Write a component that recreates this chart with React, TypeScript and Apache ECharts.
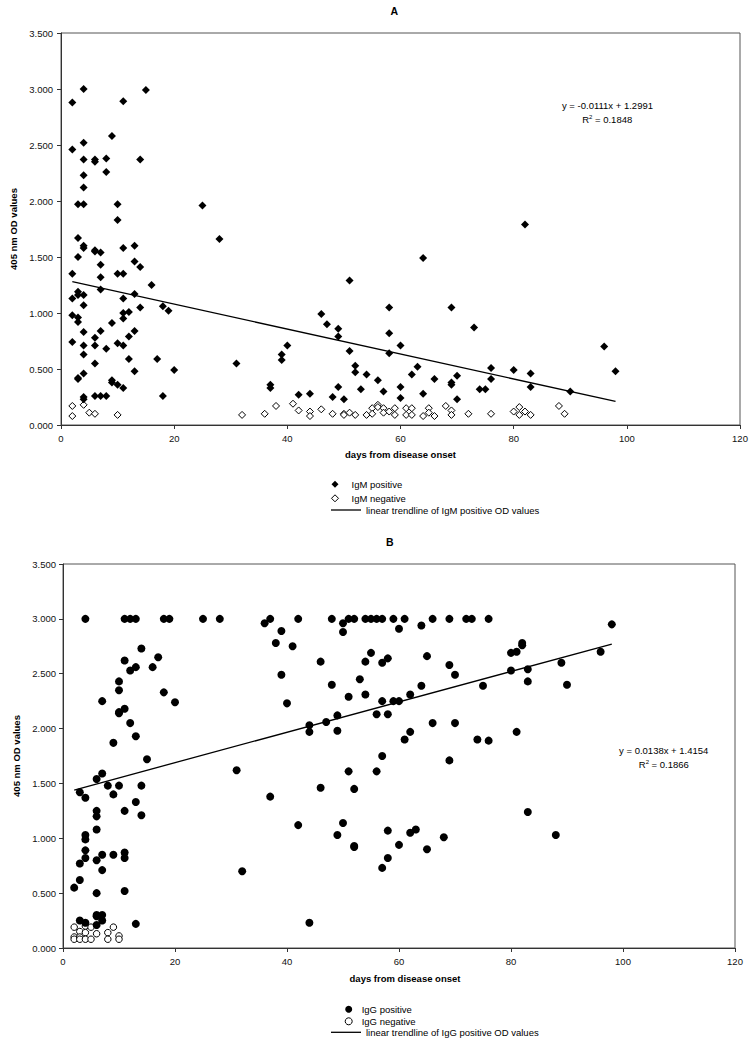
import React, { useEffect, useRef } from "react";
import * as echarts from "echarts";

// ---------- Panel A : IgM ----------
const igmPositive: [number, number][] = [
  [4, 3.0], [2, 2.88], [15, 2.99], [11, 2.89], [9, 2.58], [2, 2.46], [4, 2.52], [4, 2.37],
  [6, 2.37], [6, 2.35], [8, 2.38], [8, 2.26], [14, 2.37], [4, 2.23], [4, 2.12], [3, 1.97],
  [4, 1.97], [10, 1.97], [25, 1.96], [10, 1.83], [3, 1.67], [4, 1.6], [4, 1.58], [3, 1.5],
  [6, 1.56], [6, 1.55], [7, 1.54], [11, 1.58], [13, 1.6], [7, 1.43], [13, 1.46], [14, 1.41],
  [2, 1.35], [7, 1.32], [10, 1.35], [11, 1.35], [16, 1.25], [7, 1.21], [3, 1.19], [3, 1.16],
  [4, 1.16], [2, 1.13], [11, 1.13], [13, 1.17], [4, 1.07], [18, 1.06], [19, 1.02], [14, 1.05],
  [11, 1.0], [12, 1.01], [2, 0.98], [3, 0.96], [3, 0.92], [11, 0.95], [9, 0.91], [4, 0.83],
  [7, 0.84], [13, 0.84], [12, 0.79], [6, 0.78], [2, 0.74], [4, 0.71], [6, 0.71], [10, 0.73],
  [11, 0.71], [8, 0.68], [4, 0.63], [12, 0.59], [17, 0.59], [6, 0.55], [13, 0.48], [20, 0.49],
  [4, 0.46], [3, 0.42], [3, 0.41], [9, 0.4], [9, 0.38], [10, 0.36], [11, 0.33], [4, 0.25],
  [4, 0.23], [6, 0.26], [7, 0.26], [8, 0.26], [18, 0.26], [28, 1.66], [31, 0.55], [37, 0.36],
  [37, 0.33], [39, 0.63], [39, 0.58], [40, 0.71], [42, 0.27], [44, 0.28], [46, 0.99], [47, 0.9],
  [48, 0.25], [49, 0.86], [49, 0.79], [49, 0.34], [50, 0.23], [51, 1.29], [51, 0.66], [52, 0.53],
  [52, 0.47], [53, 0.32], [54, 0.45], [56, 0.4], [57, 0.3], [58, 1.05], [58, 0.82], [58, 0.64],
  [60, 0.71], [60, 0.34], [60, 0.24], [62, 0.45], [63, 0.52], [64, 1.49], [64, 0.28], [66, 0.41],
  [69, 1.05], [69, 0.38], [69, 0.36], [70, 0.44], [70, 0.23], [73, 0.87], [74, 0.32], [75, 0.32],
  [76, 0.51], [76, 0.41], [80, 0.49], [82, 1.79], [83, 0.46], [83, 0.34], [90, 0.3], [96, 0.7],
  [98, 0.48],
];
const igmNegative: [number, number][] = [
  [2, 0.17], [4, 0.18], [2, 0.08], [5, 0.11], [6, 0.1], [10, 0.09], [32, 0.09], [36, 0.1],
  [38, 0.17], [41, 0.19], [42, 0.13], [44, 0.12], [44, 0.08], [46, 0.14], [48, 0.1], [50, 0.1],
  [50, 0.09], [51, 0.11], [52, 0.09], [54, 0.09], [55, 0.15], [55, 0.1], [56, 0.18], [56, 0.16],
  [57, 0.15], [57, 0.11], [58, 0.12], [59, 0.15], [59, 0.09], [61, 0.15], [61, 0.09], [62, 0.15],
  [62, 0.09], [64, 0.08], [65, 0.15], [65, 0.11], [66, 0.08], [68, 0.17], [69, 0.13], [69, 0.09],
  [72, 0.1], [76, 0.1], [80, 0.12], [81, 0.16], [81, 0.09], [82, 0.12], [83, 0.09], [88, 0.17],
  [89, 0.1],
];
const igmTrend: [number, number][] = [[2, 1.28], [98, 0.21]];
const igmEquation = "y = -0.0111x + 1.2991";
const igmR2 = "0.1848";

// ---------- Panel B : IgG ----------
const iggPositive: [number, number][] = [
  [4, 3.0], [11, 3.0], [12, 3.0], [13, 3.0], [18, 3.0], [19, 3.0], [25, 3.0], [28, 3.0],
  [37, 3.0], [42, 3.0], [48, 3.0], [51, 3.0], [52, 3.0], [54, 3.0], [55, 3.0], [56, 3.0],
  [57, 3.0], [59, 3.0], [61, 3.0], [66, 3.0], [69, 3.0], [72, 3.0], [73, 3.0], [76, 3.0],
  [36, 2.96], [50, 2.96], [50, 2.88], [60, 2.91], [64, 2.94], [39, 2.89], [38, 2.78], [41, 2.75],
  [46, 2.61], [55, 2.69], [54, 2.61], [58, 2.64], [57, 2.6], [65, 2.66], [69, 2.58], [70, 2.49],
  [80, 2.69], [81, 2.7], [82, 2.76], [82, 2.78], [80, 2.53], [83, 2.54], [83, 2.43], [89, 2.6],
  [90, 2.4], [96, 2.7], [98, 2.95], [39, 2.49], [40, 2.23], [48, 2.4], [53, 2.45], [54, 2.31],
  [51, 2.29], [57, 2.25], [59, 2.25], [60, 2.25], [62, 2.31], [64, 2.39], [75, 2.39], [44, 2.03],
  [44, 1.97], [47, 2.06], [49, 2.12], [49, 1.98], [56, 2.13], [58, 2.13], [61, 1.9], [62, 1.97],
  [66, 2.05], [70, 2.05], [74, 1.9], [76, 1.89], [81, 1.97], [57, 1.75], [69, 1.71], [51, 1.61],
  [56, 1.61], [46, 1.46], [52, 1.45], [37, 1.38], [31, 1.62], [42, 1.12], [50, 1.14], [49, 1.03],
  [52, 0.93], [52, 0.92], [58, 1.07], [62, 1.05], [63, 1.08], [60, 0.94], [65, 0.9], [68, 1.01],
  [83, 1.24], [88, 1.03], [58, 0.82], [57, 0.73], [44, 0.23], [32, 0.7],
  [14, 2.73], [17, 2.65], [11, 2.62], [12, 2.53], [13, 2.56], [16, 2.56], [10, 2.43], [10, 2.35],
  [18, 2.33], [7, 2.25], [20, 2.24], [11, 2.18], [10, 2.15], [10, 2.14], [12, 2.05], [13, 1.93],
  [9, 1.87], [15, 1.72], [7, 1.59], [6, 1.54], [8, 1.48], [10, 1.48], [14, 1.48], [3, 1.42],
  [4, 1.37], [9, 1.4], [13, 1.33], [11, 1.25], [14, 1.21], [6, 1.25], [6, 1.2], [6, 1.08],
  [4, 1.03], [4, 0.99], [4, 0.89], [4, 0.82], [7, 0.85], [9, 0.85], [11, 0.87], [11, 0.82],
  [6, 0.8], [3, 0.77], [7, 0.71], [3, 0.62], [2, 0.55], [6, 0.5], [11, 0.52], [6, 0.3],
  [6, 0.29], [7, 0.3], [7, 0.25], [3, 0.25], [4, 0.23], [6, 0.21], [13, 0.22],
];
const iggNegative: [number, number][] = [
  [2, 0.19], [2, 0.1], [2, 0.08], [3, 0.15], [3, 0.1], [3, 0.08], [4, 0.2], [4, 0.14],
  [4, 0.08], [5, 0.19], [5, 0.08], [6, 0.13], [8, 0.14], [8, 0.08], [9, 0.19], [10, 0.11],
  [10, 0.08],
];
const iggTrend: [number, number][] = [[2, 1.44], [98, 2.77]];
const iggEquation = "y = 0.0138x + 1.4154";
const iggR2 = "0.1866";

// ---------- axes ----------
const xMin = 0, xMax = 120, xStep = 20;
const yMin = 0, yMax = 3.5, yStep = 0.5;
const xTitle = "days from disease onset";
const yTitle = "405 nm OD values";

const FONT = '"Liberation Sans", Arial, Helvetica, sans-serif';
const DIAMOND_ICON = "path://M4,0L8,4L4,8L0,4Z";

function xAxis(gridIndex: number, nameGap: number, padLeft: number) {
  return {
    type: "value", gridIndex, min: xMin, max: xMax, interval: xStep,
    name: xTitle, nameLocation: "middle", nameGap,
    nameTextStyle: { fontFamily: FONT, fontSize: 9.5, fontWeight: "bold", color: "#000", padding: [0, 0, 0, padLeft] },
    axisLine: { show: true, onZero: false, lineStyle: { color: "#333", width: 1 } },
    axisTick: { show: true, inside: false, length: 4, lineStyle: { color: "#333" } },
    axisLabel: { fontFamily: FONT, fontSize: 9.5, color: "#111", margin: 8 },
    splitLine: { show: false },
  };
}
function yAxis(gridIndex: number, nameGap: number, margin: number) {
  return {
    type: "value", gridIndex, min: yMin, max: yMax, interval: yStep,
    name: yTitle, nameLocation: "middle", nameGap,
    nameTextStyle: { fontFamily: FONT, fontSize: 9.5, fontWeight: "bold", color: "#000" },
    axisLine: { show: true, onZero: false, lineStyle: { color: "#333", width: 1 } },
    axisTick: { show: true, inside: false, length: 4, lineStyle: { color: "#333" } },
    axisLabel: { fontFamily: FONT, fontSize: 9.5, color: "#111", margin, formatter: (v: number) => v.toFixed(3) },
    splitLine: { show: false },
  };
}

function txt(x: number, y: number, text: string, size: number, bold = false, rich?: any) {
  return {
    type: "text", x, y, silent: true,
    style: {
      text, fontFamily: FONT, fontSize: size, fontWeight: bold ? "bold" : "normal",
      fill: "#000", align: "center", verticalAlign: "middle", rich,
    },
  };
}
const supRich = { sup: { fontSize: 6, verticalAlign: "top", fontFamily: FONT, fill: "#000" } };

export default function App() {
  const ref = useRef<HTMLDivElement>(null);
  useEffect(() => {
    document.body.style.margin = "0";
    const chart = echarts.init(ref.current!, null, { renderer: "svg" });
    const legendText = { fontFamily: FONT, fontSize: 9.5, color: "#000" };
    const filled = { color: "#000", opacity: 1 };
    const open = { color: "#fff", borderColor: "#000", borderWidth: 1, opacity: 1 };
    chart.setOption({
      animation: false,
      backgroundColor: "#fff",
      grid: [
        { left: 61, top: 33, width: 679, height: 392, show: true, borderColor: "#555", borderWidth: 1 },
        { left: 63, top: 564, width: 672, height: 384, show: true, borderColor: "#555", borderWidth: 1 },
      ],
      xAxis: [xAxis(0, 24, 0), xAxis(1, 25.5, 12)],
      yAxis: [yAxis(0, 42.5, 8), yAxis(1, 40, 7)],
      legend: [
        {
          data: [
            { name: "IgM positive", icon: DIAMOND_ICON, itemStyle: filled },
            { name: "IgM negative", icon: DIAMOND_ICON, itemStyle: open },
          ],
          orient: "vertical", left: 331, top: 478.3, itemWidth: 23, itemHeight: 7, itemGap: 2, padding: 0,
          selectedMode: false, textStyle: { ...legendText, lineHeight: 12 },
        },
        {
          data: [{ name: "linear trendline of IgM positive OD values", icon: "rect", itemStyle: filled }],
          orient: "vertical", left: 331, top: 504, itemWidth: 30, itemHeight: 1.3, padding: 0,
          selectedMode: false, textStyle: { ...legendText, lineHeight: 12 },
        },
        {
          data: [
            { name: "IgG positive", icon: "circle", itemStyle: filled },
            { name: "IgG negative", icon: "circle", itemStyle: open },
          ],
          orient: "vertical", left: 344.7, top: 1003.8, itemWidth: 16, itemHeight: 7, itemGap: 1, padding: 0,
          selectedMode: false, textStyle: { ...legendText, lineHeight: 11 },
        },
        {
          data: [{ name: "linear trendline of IgG positive OD values", icon: "rect", itemStyle: filled }],
          orient: "vertical", left: 331, top: 1026.8, itemWidth: 30, itemHeight: 1.3, padding: 0,
          selectedMode: false, textStyle: { ...legendText, lineHeight: 11 },
        },
      ],
      series: [
        {
          type: "scatter", name: "IgM negative", xAxisIndex: 0, yAxisIndex: 0, data: igmNegative,
          symbol: "diamond", symbolSize: 7, itemStyle: open, silent: true,
        },
        {
          type: "scatter", name: "IgM positive", xAxisIndex: 0, yAxisIndex: 0, data: igmPositive,
          symbol: "diamond", symbolSize: 8, itemStyle: filled, silent: true,
        },
        {
          type: "line", name: "linear trendline of IgM positive OD values", xAxisIndex: 0, yAxisIndex: 0,
          data: igmTrend, symbol: "none", lineStyle: { color: "#000", width: 1.3 }, itemStyle: filled, silent: true, z: 4,
        },
        {
          type: "scatter", name: "IgG negative", xAxisIndex: 1, yAxisIndex: 1, data: iggNegative,
          symbol: "circle", symbolSize: 6.5, itemStyle: open, silent: true,
        },
        {
          type: "scatter", name: "IgG positive", xAxisIndex: 1, yAxisIndex: 1, data: iggPositive,
          symbol: "circle", symbolSize: 8, itemStyle: filled, silent: true,
        },
        {
          type: "line", name: "linear trendline of IgG positive OD values", xAxisIndex: 1, yAxisIndex: 1,
          data: iggTrend, symbol: "none", lineStyle: { color: "#000", width: 1.3 }, itemStyle: filled, silent: true, z: 4,
        },
      ],
      graphic: [
        txt(394.3, 11.3, "A", 10.5, true),
        txt(389.7, 541.7, "B", 10.5, true),
        txt(607.5, 105, igmEquation, 9.5),
        txt(607.2, 119, `R{sup|2} = ${igmR2}`, 9.5, false, supRich),
        txt(663.7, 750, iggEquation, 9.5),
        txt(663.8, 764, `R{sup|2} = ${iggR2}`, 9.5, false, supRich),
      ],
    });
    return () => chart.dispose();
  }, []);
  return <div ref={ref} style={{ width: 755, height: 1046 }} />;
}
